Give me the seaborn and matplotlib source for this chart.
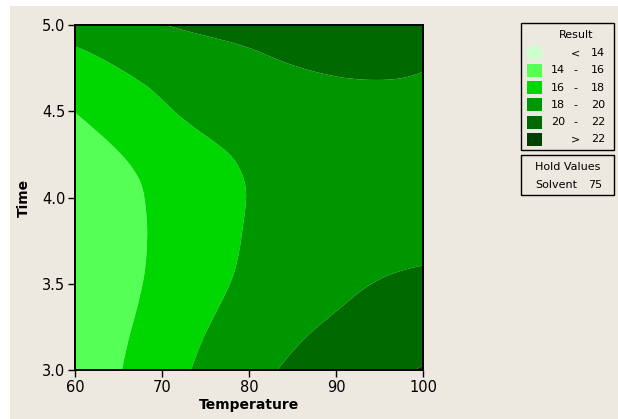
import numpy as np
import pandas as pd
import seaborn as sns
import matplotlib
matplotlib.use("Agg")
import matplotlib.pyplot as plt
import matplotlib.tri as mtri
from matplotlib.patches import Rectangle

# ---- data ----
temperature = [60, 65, 70, 75, 80, 85, 90, 95, 100]
time_vals = [3.0, 3.25, 3.5, 3.75, 4.0, 4.25, 4.5, 4.75, 5.0]
# Result estimates, one row per time value (rows follow time_vals, columns follow temperature)
result_rows = [
    [14.70, 15.90, 17.18, 18.38, 19.42, 20.27, 20.89, 21.52, 22.10],  # t = 3.00
    [14.60, 15.66, 16.80, 17.93, 18.80, 19.60, 20.25, 20.75, 21.20],  # t = 3.25
    [14.45, 15.44, 16.47, 17.51, 18.32, 18.94, 19.57, 20.07, 20.30],  # t = 3.50
    [14.40, 15.37, 16.32, 17.25, 18.15, 18.70, 19.10, 19.45, 19.70],  # t = 3.75
    [14.50, 15.45, 16.35, 17.22, 18.05, 18.60, 18.95, 19.25, 19.42],  # t = 4.00
    [15.20, 15.95, 16.77, 17.60, 18.30, 18.75, 19.05, 19.25, 19.38],  # t = 4.25
    [16.03, 16.88, 17.77, 18.50, 18.90, 19.15, 19.30, 19.45, 19.59],  # t = 4.50
    [17.30, 18.00, 18.60, 19.10, 19.50, 19.93, 20.20, 20.25, 20.05],  # t = 4.75
    [18.70, 19.30, 19.95, 20.40, 20.75, 21.00, 21.10, 21.00, 20.75],  # t = 5.00
]
level_bounds = [14, 16, 18, 20, 22]
legend_labels = [("", "<", "14"), ("14", "-", "16"), ("16", "-", "18"),
                 ("18", "-", "20"), ("20", "-", "22"), ("", ">", "22")]
band_colors = ["#CCFFCC", "#55FF55", "#00D700", "#009600", "#006A00", "#004000"]
legend_title = "Result"
hold_label = "Hold Values"
hold_var, hold_val = "Solvent", "75"
x_ticks = [60, 70, 80, 90, 100]
y_ticks = [3.0, 3.5, 4.0, 4.5, 5.0]

# ---- figure ----
sns.set_style("white")
plt.rcParams["font.family"] = ["DejaVu Sans"]
plt.rcParams["text.color"] = "black"
plt.rcParams["axes.labelcolor"] = "black"

W, H = 618, 419
BG = "#EDE9E0"
fig = plt.figure(figsize=(W / 100, H / 100), dpi=100)
fig.patch.set_facecolor("white")

def fx(px):
    return px / W

def fy(py):
    return 1 - py / H

fig.patches.append(Rectangle((fx(10), 0), 1 - fx(10), fy(6), transform=fig.transFigure,
                             facecolor=BG, edgecolor="none", zorder=-10))

ax = fig.add_axes([fx(75), fy(370), fx(423) - fx(75), fy(25) - fy(370)])

df = pd.DataFrame(result_rows, index=time_vals, columns=temperature)
long = df.stack().reset_index()
long.columns = ["Time", "Temperature", "Result"]
# triangulate in normalised coordinates so the smoothing treats both axes alike
tu = (long["Temperature"].values - 60) / 40.0
tv = (long["Time"].values - 3.0) / 2.0
tri = mtri.Triangulation(tu, tv)
refiner = mtri.UniformTriRefiner(tri)
interp = mtri.CubicTriInterpolator(tri, long["Result"].values, kind="min_E")
tri_f, z_f = refiner.refine_field(long["Result"].values, triinterpolator=interp, subdiv=4)
tri_plot = mtri.Triangulation(60 + tri_f.x * 40.0, 3.0 + tri_f.y * 2.0, tri_f.triangles)
levels = [-1e9] + level_bounds + [1e9]
ax.tricontourf(tri_plot, z_f, levels=levels, colors=band_colors, antialiased=True)

ax.set_xlim(60, 100)
ax.set_ylim(3.0, 5.0)
ax.set_xticks(x_ticks)
ax.set_xticklabels([str(t) for t in x_ticks])
ax.set_yticks(y_ticks)
ax.set_yticklabels([f"{t:.1f}" for t in y_ticks])
ax.tick_params(axis="both", direction="out", length=5, width=1, colors="black",
               labelsize=10.5, pad=2, left=True, bottom=True)
for s in ax.spines.values():
    s.set_visible(True)
    s.set_color("black")
    s.set_linewidth(1.4)
ax.set_xlabel("Temperature", fontsize=10, fontweight="bold", labelpad=2)
ax.set_ylabel("Time", fontsize=10, fontweight="bold", labelpad=8)

# ---- legend boxes ----
lx0, lx1 = 521, 614
fig.patches.append(Rectangle((fx(lx0), fy(150)), fx(lx1) - fx(lx0), fy(23) - fy(150),
                             transform=fig.transFigure, facecolor=BG, edgecolor="black",
                             linewidth=1.0))
fig.text(fx(576), fy(35), legend_title, ha="center", va="center", fontsize=8)
for i, (col, (a, sep, b)) in enumerate(zip(band_colors, legend_labels)):
    top = 46.5 + i * 17.3
    fig.patches.append(Rectangle((fx(527), fy(top + 13)), fx(542) - fx(527), fy(top) - fy(top + 13),
                                 transform=fig.transFigure, facecolor=col, edgecolor="none"))
    yc = fy(top + 6.5)
    if a:
        fig.text(fx(565), yc, a, ha="right", va="center", fontsize=8)
    fig.text(fx(575), yc, sep, ha="center", va="center", fontsize=8)
    fig.text(fx(605), yc, b, ha="right", va="center", fontsize=8)

fig.patches.append(Rectangle((fx(lx0), fy(195)), fx(lx1) - fx(lx0), fy(155) - fy(195),
                             transform=fig.transFigure, facecolor=BG, edgecolor="black",
                             linewidth=1.0))
fig.text(fx(568), fy(167), hold_label, ha="center", va="center", fontsize=8)
fig.text(fx(535), fy(185), hold_var, ha="left", va="center", fontsize=8)
fig.text(fx(602), fy(185), hold_val, ha="right", va="center", fontsize=8)

fig.savefig("out.png", dpi=100, facecolor=fig.get_facecolor())
